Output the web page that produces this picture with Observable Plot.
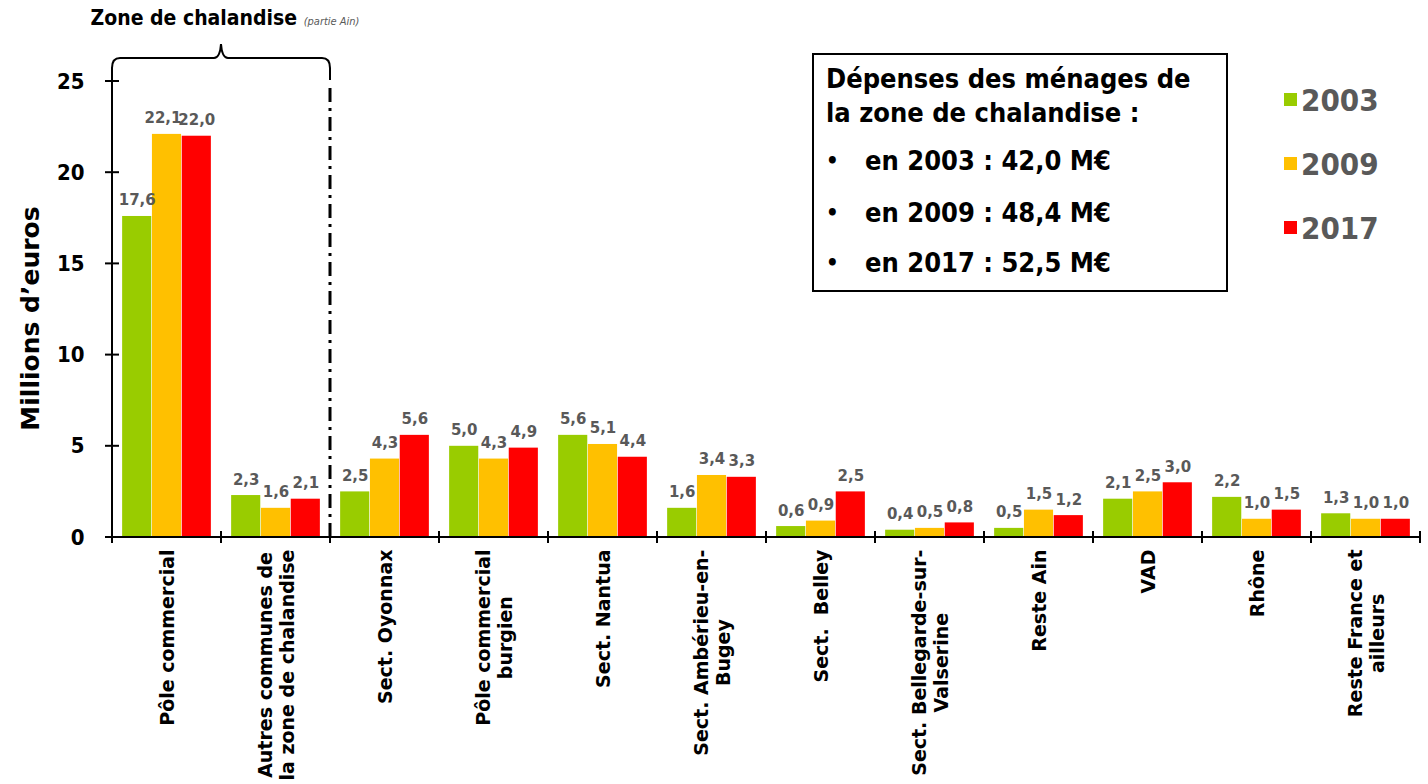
<!DOCTYPE html>
<html><head><meta charset="utf-8">
<script src="https://cdn.jsdelivr.net/npm/d3@7"></script>
<script src="https://cdn.jsdelivr.net/npm/@observablehq/plot@0.6"></script>
<style>
body{margin:0;background:#fff;}
#wrap{position:relative;width:1428px;height:784px;overflow:hidden;font-family:"DejaVu Sans Condensed","DejaVu Sans",sans-serif;font-weight:bold;}
#box{position:absolute;left:812px;top:53px;width:412px;height:235px;border:2px solid #000;background:#fff;}
.bl{position:absolute;font-size:27px;white-space:nowrap;color:#000;line-height:1;}
.bul{position:absolute;left:12px;font-size:22px;line-height:1;}
.lg{position:absolute;left:1284px;font-size:31px;color:#595959;line-height:1;white-space:nowrap;}
.lg i{display:inline-block;width:13px;height:13px;margin-right:4px;vertical-align:middle;position:relative;top:-3px;}
</style></head><body><div id="wrap"></div>
<script>
const categories = ["Pôle commercial","Autres communes","Sect. Oyonnax","Pôle commercial burgien","Sect. Nantua","Sect. Ambérieu-en-Bugey","Sect. Belley","Sect. Bellegarde-sur-Valserine","Reste Ain","VAD","Rhône","Reste France et ailleurs"];
const tickLabels = ["Pôle commercial","Autres communes de\nla zone de chalandise","Sect. Oyonnax","Pôle commercial\nburgien","Sect. Nantua","Sect. Ambérieu-en-\nBugey","Sect.  Belley","Sect. Bellegarde-sur-\nValserine","Reste Ain","VAD","Rhône","Reste France et\nailleurs"];
const years = ["2003","2009","2017"];
const values2003 = [17.6,2.3,2.5,5.0,5.6,1.6,0.6,0.4,0.5,2.1,2.2,1.3];
const values2009 = [22.1,1.6,4.3,4.3,5.1,3.4,0.9,0.5,1.5,2.5,1.0,1.0];
const values2017 = [22.0,2.1,5.6,4.9,4.4,3.3,2.5,0.8,1.2,3.0,1.5,1.0];
const colors = ["#99CC00","#FFC000","#FF0000"];
const yTicks = [0,5,10,15,20,25];
const yTitle = "Millions d’euros";
const zoneTitle = "Zone de chalandise";
const zoneSub = "(partie Ain)";
const boxTitle = ["Dépenses des ménages de","la zone de chalandise :"];
const totals = ["42,0","48,4","52,5"];

const FONT = '"DejaVu Sans Condensed","DejaVu Sans",sans-serif';
const FONT_W = '"DejaVu Sans",sans-serif';
const W = 1428, H = 784, mLeft = 108, xRight = 1424, mTop = 81, yBottom = 537;
const bw = (xRight - mLeft) / categories.length;
const barW = 29.8;
const pad = (bw - 3 * barW) / 2;
const fmt = v => v.toFixed(1).replace(".", ",");

const series = [values2003, values2009, values2017].map((vals, i) =>
  vals.map((v, j) => ({cat: categories[j], year: years[i], value: v})));

function decorations(index, scales) {
  const x = scales.x, y = scales.y;
  const b = x.bandwidth ? x.bandwidth() : (x(categories[1]) - x(categories[0]));
  const g = d3.create("svg:g");
  const x0 = x(categories[0]);
  const xEnd = x(categories[categories.length - 1]) + b;
  const y0 = y(0);
  const st = sel => sel.attr("stroke", "#000").attr("stroke-width", 2).attr("fill", "none");
  g.append("line").attr("x1", x0).attr("x2", xEnd).attr("y1", y0).attr("y2", y0).call(st);
  const bounds = categories.map(c => x(c)).concat([xEnd]);
  bounds.forEach(bx => g.append("line").attr("x1", bx).attr("x2", bx).attr("y1", y0 - 6).attr("y2", y0 + 6).call(st));
  yTicks.forEach(t => g.append("line").attr("x1", x0 - 7).attr("x2", x0 + 7).attr("y1", y(t)).attr("y2", y(t)).call(st));
  const x1 = x(categories[1]) + b;
  const xm = (x0 + x1) / 2;
  const yb = y(25) - 23;
  const path = `M${x0},${y0} L${x0},${yb + 10} Q${x0},${yb} ${x0 + 8},${yb} L${xm - 7},${yb} Q${xm - 1},${yb} ${xm},${yb - 14} Q${xm + 1},${yb} ${xm + 7},${yb} L${x1 - 8},${yb} Q${x1},${yb} ${x1},${yb + 10} L${x1},${yb + 22}`;
  g.append("path").attr("d", path).call(st);
  g.append("line").attr("x1", x1).attr("x2", x1).attr("y1", yb + 30).attr("y2", y0)
    .attr("stroke", "#000").attr("stroke-width", 3).attr("stroke-dasharray", "14,6,3,6");
  const t = g.append("text").attr("x", xm + 4).attr("y", yb - 33).attr("text-anchor", "middle")
    .attr("font-family", FONT);
  t.append("tspan").attr("font-size", 21).attr("font-weight", "bold").attr("fill", "#000").text(zoneTitle + " ");
  t.append("tspan").attr("font-size", 11).attr("font-style", "italic").attr("font-weight", "normal").attr("fill", "#595959").text(zoneSub);
  return g.node();
}

const marks = [];
series.forEach((rows, i) => {
  marks.push(Plot.barY(rows, {x: "cat", y: "value", fill: colors[i],
    insetLeft: pad + i * barW, insetRight: bw - pad - (i + 1) * barW}));
});
marks.push(decorations);
const labelStyle = {x: "cat", y: "value", text: d => fmt(d.value), dy: -11,
  lineAnchor: "bottom", fill: "#595959", fontSize: 15, fontWeight: "bold", fontFamily: FONT_W};
series.forEach((rows, i) => {
  // wide (two-digit) middle labels are nudged left so they do not run into their neighbour
  const wide = d => i === 1 && d.value >= 10;
  marks.push(Plot.text(rows.filter(d => !wide(d)), {...labelStyle, dx: (i - 1) * barW}));
  marks.push(Plot.text(rows.filter(wide), {...labelStyle, dx: (i - 1) * barW - 4}));
});
marks.push(Plot.text(categories, {x: d => d, y: () => 0, text: (d, i) => tickLabels[i], rotate: -90,
  textAnchor: "end", lineAnchor: "middle", dy: 12, fontSize: 19, fontWeight: "bold", lineHeight: 1.15,
  fill: "#000", fontFamily: FONT_W}));
marks.push(Plot.axisY({ticks: yTicks, tickSize: 0, tickPadding: 24, fontSize: 22, fontWeight: "bold", label: null, fill: "#000"}));
marks.push(Plot.text([yTitle], {text: d => d, frameAnchor: "left", textAnchor: "middle", dx: -78, dy: 9, rotate: -90,
  fontSize: 25, fontWeight: "bold", fill: "#000", fontFamily: FONT_W}));

const chart = Plot.plot({
  width: W, height: H,
  marginLeft: mLeft, marginRight: W - xRight, marginTop: mTop, marginBottom: H - yBottom,
  x: {domain: categories, padding: 0, axis: null},
  y: {domain: [0, 25], axis: null},
  style: {fontFamily: FONT, background: "#fff", color: "#000", overflow: "visible"},
  marks
});

const wrap = document.getElementById("wrap");
wrap.appendChild(chart);

// center the lines of multi-line category labels
chart.querySelectorAll("text").forEach(t => {
  const spans = t.querySelectorAll("tspan");
  if (spans.length < 2) return;
  const joined = Array.from(spans).map(s => s.textContent).join("\n");
  if (!tickLabels.includes(joined)) return;
  let L = 0;
  spans.forEach(s => { L = Math.max(L, s.getComputedTextLength()); });
  t.setAttribute("text-anchor", "middle");
  spans.forEach(s => s.setAttribute("x", -L / 2));
});

// info box
const box = document.createElement("div");
box.id = "box";
const lineTops = [10, 44];
boxTitle.forEach((txt, i) => {
  const d = document.createElement("div");
  d.className = "bl"; d.style.left = "12px"; d.style.top = lineTops[i] + "px"; d.textContent = txt;
  box.appendChild(d);
});
const bulletTops = [92, 144, 194];
years.forEach((yr, i) => {
  const b = document.createElement("div");
  b.className = "bul"; b.style.top = (bulletTops[i] + 3) + "px"; b.textContent = "•";
  box.appendChild(b);
  const d = document.createElement("div");
  d.className = "bl"; d.style.left = "51px"; d.style.top = bulletTops[i] + "px";
  d.textContent = `en ${yr} : ${totals[i]} M€`;
  box.appendChild(d);
});
wrap.appendChild(box);

// legend
const legTops = [85, 149, 213];
years.forEach((yr, i) => {
  const d = document.createElement("div");
  d.className = "lg"; d.style.top = legTops[i] + "px";
  const sw = document.createElement("i"); sw.style.background = colors[i];
  d.appendChild(sw); d.appendChild(document.createTextNode(yr));
  wrap.appendChild(d);
});
</script></body></html>
